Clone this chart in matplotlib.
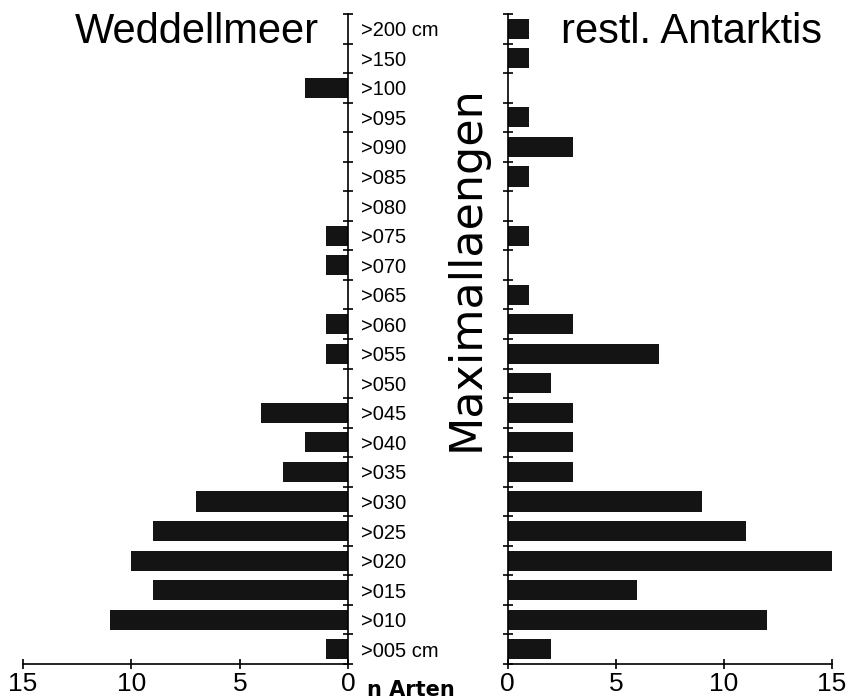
import matplotlib
matplotlib.use("Agg")
import matplotlib.pyplot as plt
import numpy as np

categories = [">005 cm", ">010", ">015", ">020", ">025", ">030", ">035", ">040",
              ">045", ">050", ">055", ">060", ">065", ">070", ">075", ">080",
              ">085", ">090", ">095", ">100", ">150", ">200 cm"]
weddell = [1, 11, 9, 10, 9, 7, 3, 2, 4, 0, 1, 1, 0, 1, 1, 0, 0, 0, 0, 2, 0, 0]
antarktis = [2, 12, 6, 15, 11, 9, 3, 3, 3, 2, 7, 3, 1, 0, 1, 0, 1, 3, 1, 0, 1, 1]
xticks = [0, 5, 10, 15]

plt.rcParams['font.family'] = ['Liberation Sans', 'DejaVu Sans']
fig = plt.figure(figsize=(8.49, 7.0), dpi=100)
axL = fig.add_axes([0.0271, 0.0514, 0.383, 0.9286])
axR = fig.add_axes([0.598, 0.0514, 0.382, 0.9286])

y = np.arange(len(categories))
barc = '#141414'
lw = 1.2
axL.barh(y, weddell, height=0.68, color=barc)
axR.barh(y, antarktis, height=0.68, color=barc)

for ax in (axL, axR):
    ax.set_ylim(-0.5, len(categories) - 0.5)
    ax.set_xticks(xticks)
    ax.set_xticklabels([str(t) for t in xticks], fontsize=19)
    ax.tick_params(axis='x', direction='inout', length=7, width=lw, pad=2)
    ax.set_yticks(np.arange(-0.5, len(categories), 1.0), minor=True)
    ax.tick_params(axis='y', which='minor', direction='inout', length=7, width=lw)
    ax.spines['top'].set_visible(False)
    ax.spines['bottom'].set_linewidth(lw)

axL.set_xlim(15, 0)
axL.spines['left'].set_visible(False)
axL.spines['right'].set_linewidth(lw)
axL.yaxis.set_ticks_position('right')
axL.set_yticks(y)
axL.set_yticklabels(categories, fontsize=14.5)
axL.tick_params(axis='y', which='major', length=0, pad=9, labelright=True, labelleft=False)
axL.tick_params(axis='y', which='minor', right=True, left=False)

axR.set_xlim(0, 15)
axR.spines['right'].set_visible(False)
axR.spines['left'].set_linewidth(lw)
axR.set_yticks([])
axR.set_yticks(np.arange(-0.5, len(categories), 1.0), minor=True)
axR.tick_params(axis='y', which='minor', left=True, right=False, labelleft=False)

fig.text(0.232, 0.9386, "Weddellmeer", fontsize=30, ha='center', va='baseline')
fig.text(0.815, 0.9386, "restl. Antarktis", fontsize=30, ha='center', va='baseline')
fig.text(0.549, 0.617, "Maximallaengen", fontsize=32, rotation=90,
         ha='center', va='center', family=['DejaVu Sans'])
fig.text(0.484, 0.0057, "n Arten", fontsize=15, ha='center', va='baseline',
         family=['DejaVu Sans'], fontweight='bold')

fig.savefig("out.png", dpi=100)
